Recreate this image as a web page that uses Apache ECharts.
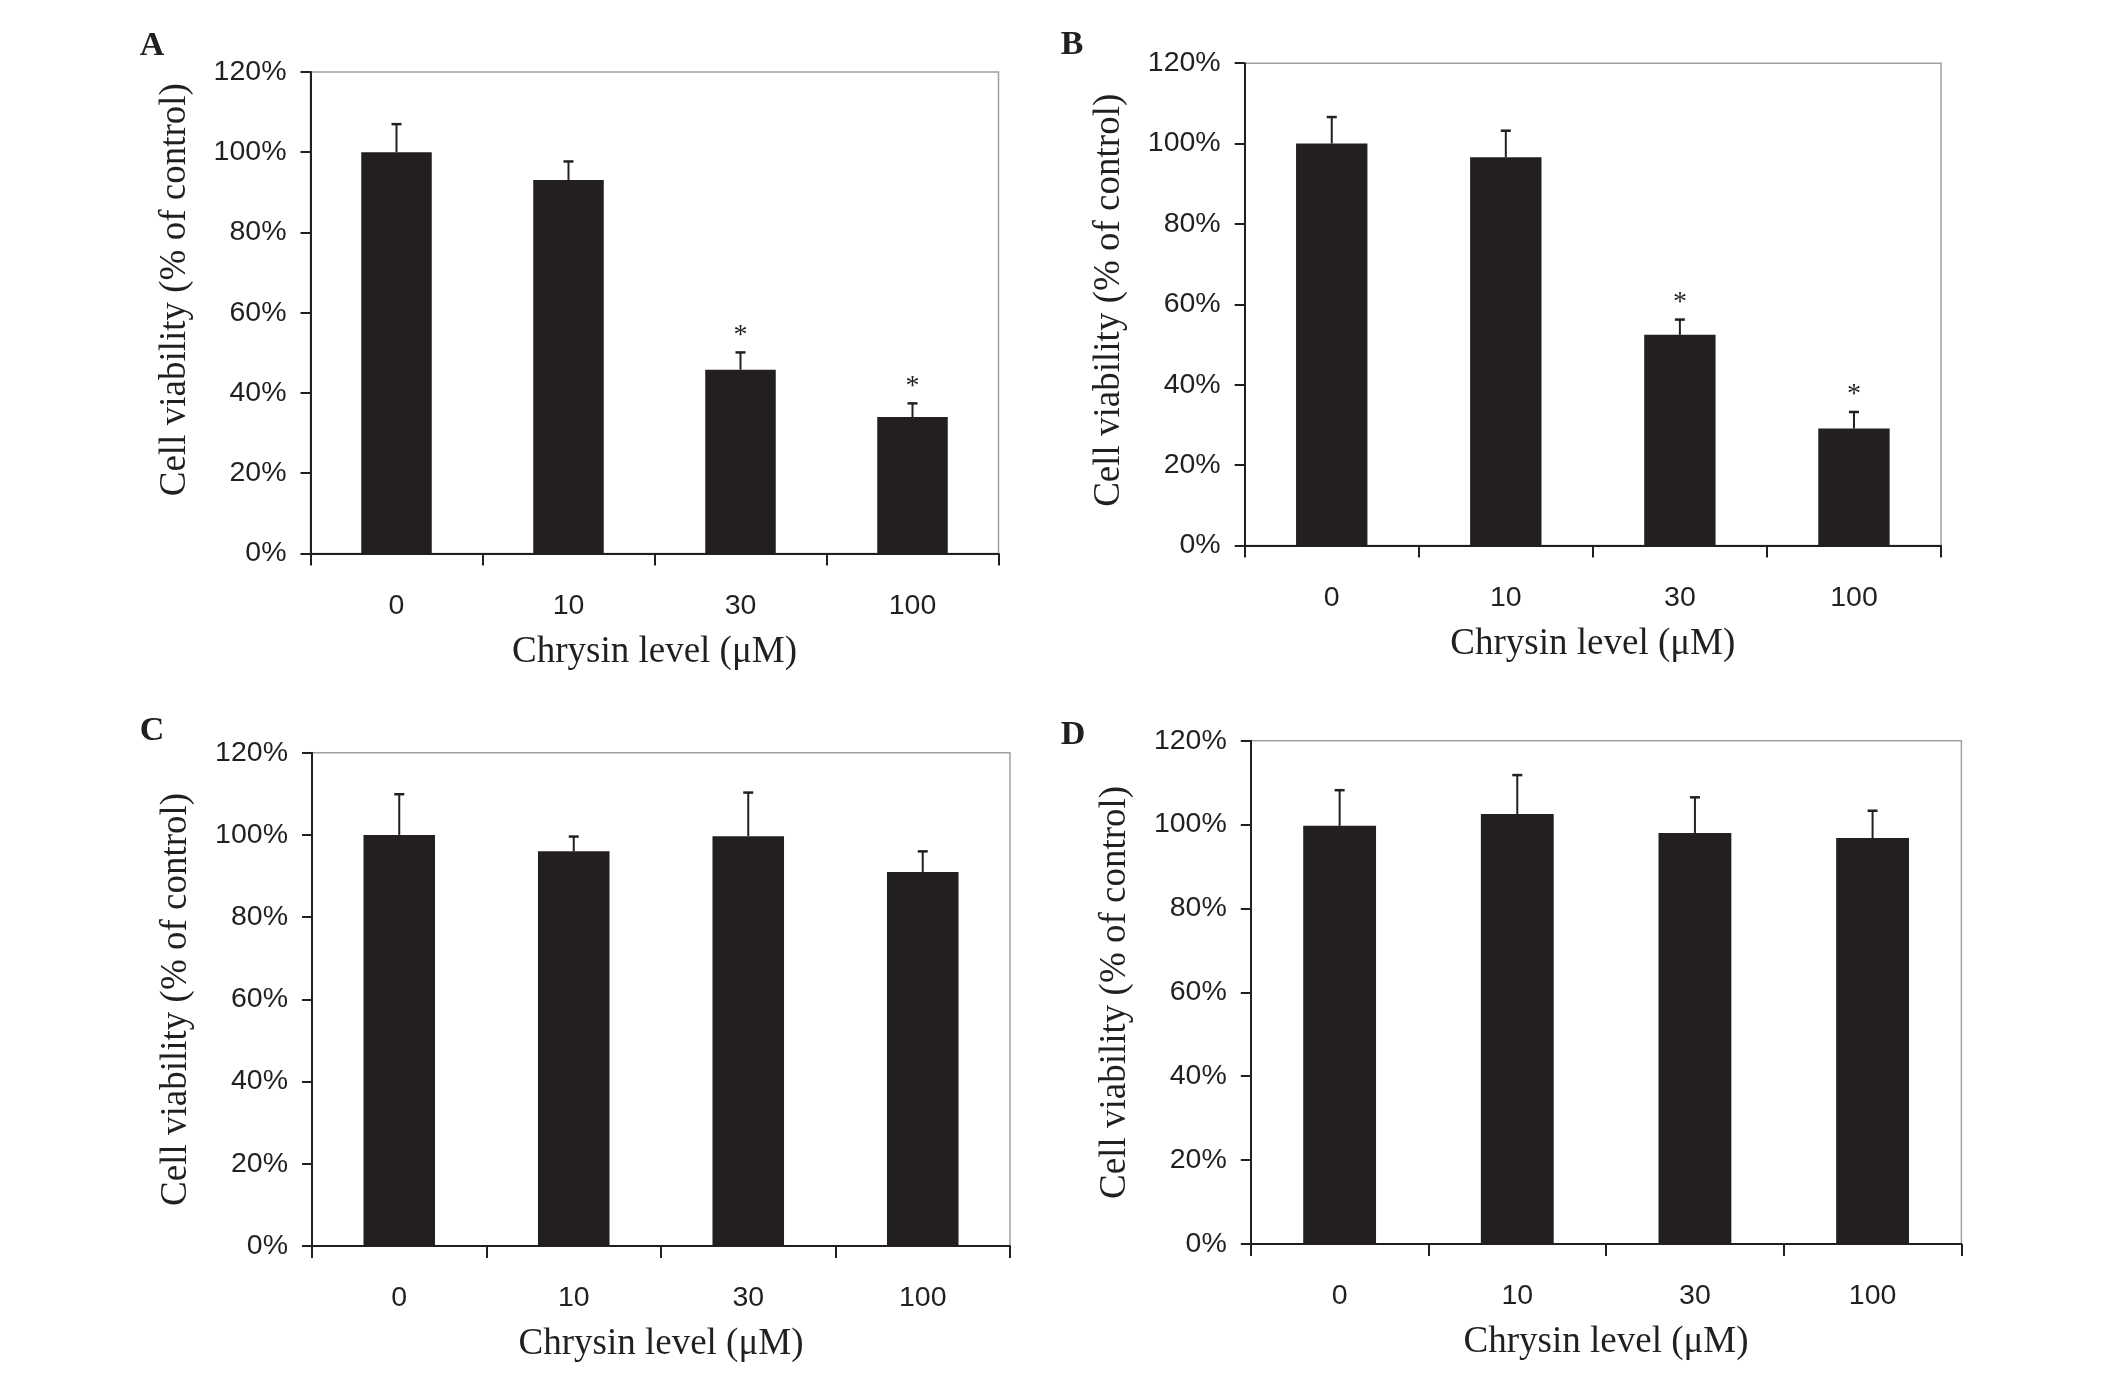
<!DOCTYPE html>
<html>
<head>
<meta charset="utf-8">
<script src="https://cdn.jsdelivr.net/npm/echarts@6/dist/echarts.min.js"></script>
<style>
html,body{margin:0;padding:0;background:#fff;}
#chart{width:2126px;height:1386px;}
</style>
</head>
<body>
<div id="chart"></div>
<script>
// ---- data ----
const categories = ['0', '10', '30', '100'];
const yMin = 0, yMax = 120, yStep = 20;

const meanA = [100, 93.1, 45.8, 34.0];
const sdA   = [7.0, 4.6, 4.3, 3.4];
const sigA  = [false, false, true, true];

const meanB = [100, 96.6, 52.4, 29.1];
const sdB   = [6.6, 6.6, 3.8, 4.1];
const sigB  = [false, false, true, true];

const meanC = [100, 96.0, 99.7, 91.0];
const sdC   = [9.9, 3.6, 10.6, 5.0];
const sigC  = [false, false, false, false];

const meanD = [99.7, 102.5, 98.0, 96.8];
const sdD   = [8.5, 9.3, 8.5, 6.5];
const sigD  = [false, false, false, false];

const panelLetters = ['A', 'B', 'C', 'D'];
const xTitle = 'Chrysin level (\u03bcM)';
const yTitle = 'Cell viability (% of control)';

// ---- layout / style ----
const grids = [
  {left: 310.5, top: 72,    width: 688,   height: 481.4},
  {left: 1244.7, top: 63.2, width: 696.3, height: 482.2},
  {left: 312,   top: 752.7, width: 698,   height: 493.3},
  {left: 1250.8, top: 740.7, width: 710.6, height: 503.3}
];
const letterPos = [[152, 46], [1072, 45], [152, 731], [1073, 735]];
const yNamePadding = [[0, 0, 0, 46], [0, 0, 0, 8], 0, 0];
const panels = [
  {mean: meanA, sd: sdA, sig: sigA},
  {mean: meanB, sd: sdB, sig: sigB},
  {mean: meanC, sd: sdC, sig: sigC},
  {mean: meanD, sd: sdD, sig: sigD}
];
const ink = '#231f20';
const sansFont = '"Liberation Sans", Arial, sans-serif';
const serifFont = '"Liberation Serif", "Times New Roman", serif';

function errRender(params, api) {
  const idx = api.value(0);
  const base = api.coord([idx, api.value(1)]);
  const top = api.coord([idx, api.value(2)]);
  const children = [
    {type: 'line', shape: {x1: base[0], y1: base[1], x2: top[0], y2: top[1]},
     style: {stroke: ink, lineWidth: 2}},
    {type: 'line', shape: {x1: top[0] - 5, y1: top[1], x2: top[0] + 5, y2: top[1]},
     style: {stroke: ink, lineWidth: 2.5}}
  ];
  if (api.value(3)) {
    children.push({type: 'text', x: top[0], y: top[1] - 3,
      style: {text: '*', fill: ink, font: '28px ' + serifFont, align: 'center', verticalAlign: 'bottom'}});
  }
  return {type: 'group', children: children};
}

const option = {
  backgroundColor: '#fff',
  animation: false,
  grid: grids.map(g => Object.assign({show: true, borderColor: '#a0a0a0', borderWidth: 1.5,
                                       backgroundColor: 'transparent', containLabel: false}, g)),
  xAxis: grids.map((g, i) => ({
    type: 'category', gridIndex: i, data: categories,
    name: xTitle, nameLocation: 'middle', nameGap: 80,
    nameTextStyle: {fontFamily: serifFont, fontSize: 37, color: ink},
    axisLine: {lineStyle: {color: ink, width: 2}},
    axisTick: {show: true, length: 12, lineStyle: {color: ink, width: 2}},
    axisLabel: {fontFamily: sansFont, fontSize: 28.5, color: ink, margin: 38},
    splitLine: {show: false}
  })),
  yAxis: grids.map((g, i) => ({
    type: 'value', gridIndex: i, min: yMin, max: yMax, interval: yStep,
    name: yTitle, nameLocation: 'middle', nameGap: 117,
    nameTextStyle: {fontFamily: serifFont, fontSize: 37, color: ink, padding: yNamePadding[i]},
    axisLine: {show: true, lineStyle: {color: ink, width: 2}},
    axisTick: {show: true, length: 10, lineStyle: {color: ink, width: 2}},
    axisLabel: {fontFamily: sansFont, fontSize: 28.5, color: ink, margin: 24, formatter: '{value}%'},
    splitLine: {show: false}
  })),
  series: [].concat(
    panels.map((p, i) => ({
      type: 'bar', xAxisIndex: i, yAxisIndex: i, data: p.mean,
      barWidth: '41%', itemStyle: {color: ink}, z: 2
    })),
    panels.map((p, i) => ({
      type: 'custom', xAxisIndex: i, yAxisIndex: i, z: 3,
      renderItem: errRender,
      encode: {x: 0, y: 2},
      data: p.mean.map((m, k) => [k, m, m + p.sd[k], p.sig[k] ? 1 : 0])
    }))
  ),
  graphic: panelLetters.map((t, i) => ({
    type: 'text', x: letterPos[i][0], y: letterPos[i][1],
    style: {text: t, font: 'bold 34px ' + serifFont, fill: ink, align: 'center', verticalAlign: 'middle'}
  }))
};

const chart = echarts.init(document.getElementById('chart'), null, {renderer: 'canvas'});
chart.setOption(option);
</script>
</body>
</html>
